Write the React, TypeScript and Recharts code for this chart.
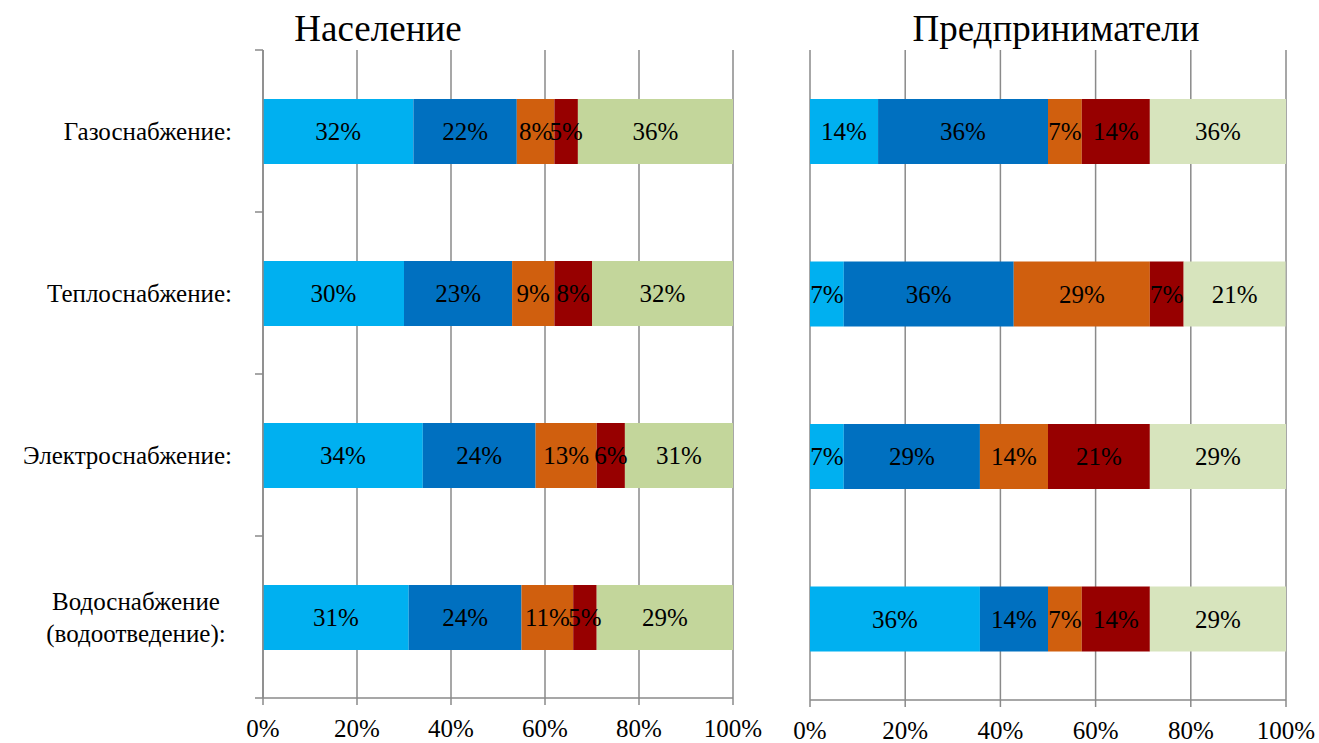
import { Bar, BarChart, CartesianGrid, LabelList, XAxis, YAxis } from "recharts";

const categories = [
  "Газоснабжение:",
  "Теплоснабжение:",
  "Электроснабжение:",
  "Водоснабжение\n(водоотведение):",
];

// Население
const popA = [32, 30, 34, 31];
const popB = [22, 23, 24, 24];
const popC = [8, 9, 13, 11];
const popD = [5, 8, 6, 5];
const popE = [36, 32, 31, 29];

// Предприниматели
const entA = [14.3, 7.1, 7.1, 35.7];
const entB = [35.7, 35.7, 28.6, 14.3];
const entC = [7.1, 28.6, 14.3, 7.1];
const entD = [14.3, 7.1, 21.4, 14.3];
const entE = [35.7, 21.4, 28.6, 28.6];

const xTicks = [0, 20, 40, 60, 80, 100];

const FONT = "'Liberation Serif', 'Times New Roman', serif";
const GRID = "#8a8a8a";
const leftColors = ["#00B0F0", "#0070C0", "#D05F0E", "#970000", "#C3D69B"];
const rightColors = ["#00B0F0", "#0070C0", "#D05F0E", "#970000", "#D7E4BD"];
const keys = ["a", "b", "c", "d", "e"];

const build = (s: number[][]) =>
  categories.map((cat, i) => ({ cat, a: s[0][i], b: s[1][i], c: s[2][i], d: s[3][i], e: s[4][i] }));

const popData = build([popA, popB, popC, popD, popE]);
const entData = build([entA, entB, entC, entD, entE]);

const PLOT_H = 648;
const BAND = PLOT_H / categories.length;

function CatTick({ x, y, payload, index }: any) {
  const lines = String(payload.value).split("\n");
  const half = BAND / 2;
  const multi = lines.length > 1;
  const tx = multi ? x - 127 : x - 31;
  return (
    <g>
      <line x1={x - 8} x2={x} y1={y - half} y2={y - half} stroke={GRID} strokeWidth={1.5} />
      {index === categories.length - 1 && (
        <line x1={x - 8} x2={x} y1={y + half} y2={y + half} stroke={GRID} strokeWidth={1.5} />
      )}
      <text
        x={tx}
        y={y + 9 - (lines.length - 1) * 16}
        textAnchor={multi ? "middle" : "end"}
        fontSize={25}
        fontFamily={FONT}
        fill="#000"
      >
        {lines.map((l, i) => (
          <tspan key={i} x={tx} dy={i === 0 ? 0 : 32}>
            {l}
          </tspan>
        ))}
      </text>
    </g>
  );
}

function Panel({
  data,
  colors,
  width,
  margin,
  xHeight,
  showCats,
}: {
  data: any[];
  colors: string[];
  width: number;
  margin: { top: number; right: number; bottom: number; left: number };
  xHeight: number;
  showCats: boolean;
}) {
  return (
    <BarChart width={width} height={743} data={data} layout="vertical" margin={margin} barSize={65}>
      <CartesianGrid horizontal={false} stroke={GRID} strokeWidth={1.5} />
      <XAxis
        type="number"
        domain={[0, 100]}
        ticks={xTicks}
        allowDataOverflow
        tickFormatter={(v) => `${v}%`}
        height={xHeight}
        tickSize={7}
        tickMargin={14}
        axisLine={{ stroke: GRID, strokeWidth: 1.5 }}
        tickLine={{ stroke: GRID, strokeWidth: 1.5 }}
        tick={{ fill: "#000", fontSize: 25, fontFamily: FONT }}
        interval={0}
      />
      {showCats ? (
        <YAxis
          type="category"
          dataKey="cat"
          width={263}
          tickSize={0}
          tickMargin={0}
          tickLine={false}
          axisLine={{ stroke: GRID, strokeWidth: 1.5 }}
          tick={<CatTick />}
          interval={0}
        />
      ) : (
        <YAxis type="category" dataKey="cat" hide />
      )}
      {keys.map((k, i) => (
        <Bar key={k} dataKey={k} stackId="s" fill={colors[i]} isAnimationActive={false}>
          <LabelList
            dataKey={k}
            position="center"
            formatter={(v: any) => `${Math.round(Number(v))}%`}
            fill="#000"
            fontSize={25}
            fontFamily={FONT}
          />
        </Bar>
      ))}
    </BarChart>
  );
}

export default function App() {
  return (
    <div style={{ position: "absolute", left: 0, top: 0, width: 1319, height: 743, background: "#fff", overflow: "hidden" }}>
      <svg width={1319} height={743} style={{ position: "absolute", left: 0, top: 0 }}>
        <text x={378} y={41} textAnchor="middle" fontSize={37} fontFamily={FONT} fill="#000">
          Население
        </text>
        <text x={1056} y={41} textAnchor="middle" fontSize={37} fontFamily={FONT} fill="#000">
          Предприниматели
        </text>
      </svg>
      <div style={{ position: "absolute", left: 0, top: 0 }}>
        <Panel
          data={popData}
          colors={leftColors}
          width={775}
          margin={{ top: 50, right: 42, bottom: 0, left: 0 }}
          xHeight={45}
          showCats
        />
      </div>
      <div style={{ position: "absolute", left: 780, top: 0 }}>
        <Panel
          data={entData}
          colors={rightColors}
          width={539}
          margin={{ top: 50, right: 33, bottom: 0, left: 30 }}
          xHeight={43}
          showCats={false}
        />
      </div>
    </div>
  );
}
